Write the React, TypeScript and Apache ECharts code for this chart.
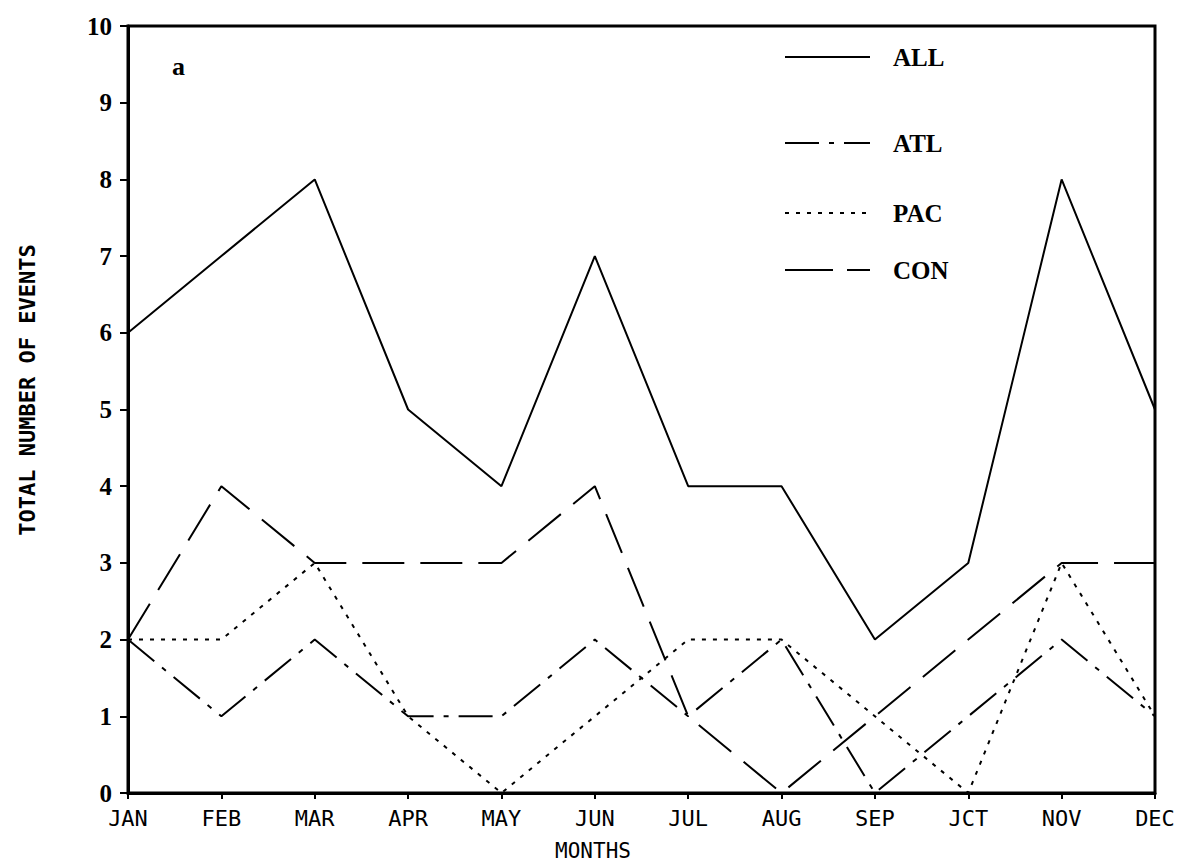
import React, { useEffect, useRef } from "react";
import * as echarts from "echarts";

const months = ["JAN", "FEB", "MAR", "APR", "MAY", "JUN", "JUL", "AUG", "SEP", "OCT", "NOV", "DEC"];
const monthLabels = ["JAN", "FEB", "MAR", "APR", "MAY", "JUN", "JUL", "AUG", "SEP", "JCT", "NOV", "DEC"];
const allEvents = [6, 7, 8, 5, 4, 7, 4, 4, 2, 3, 8, 5];
const atlEvents = [2, 1, 2, 1, 1, 2, 1, 2, 0, 1, 2, 1];
const pacEvents = [2, 2, 3, 1, 0, 1, 2, 2, 1, 0, 3, 1];
const conEvents = [2, 4, 3, 3, 3, 4, 1, 0, 1, 2, 3, 3];
const seriesNames = ["ALL", "ATL", "PAC", "CON"];

const styles: any[] = [
  "solid",
  [34, 10, 5, 10],
  [4, 7],
  [42, 16],
];

export default function App() {
  const ref = useRef<HTMLDivElement>(null);
  useEffect(() => {
    const chart = echarts.init(ref.current!, null, { renderer: "svg" });
    const data = [allEvents, atlEvents, pacEvents, conEvents];
    const legendY = [57, 143, 213, 270];
    const legendGraphics: any[] = [];
    seriesNames.forEach((n, i) => {
      legendGraphics.push({
        type: "line",
        shape: { x1: 785, y1: legendY[i], x2: 870, y2: legendY[i] },
        style: { stroke: "#000", lineWidth: 2, lineDash: styles[i] === "solid" ? null : (i === 3 ? [48, 14] : styles[i]) },
      });
      legendGraphics.push({
        type: "text",
        x: 893,
        y: legendY[i],
        style: {
          text: n,
          font: "bold 25px 'Liberation Serif'",
          fill: "#000",
          verticalAlign: "middle",
        },
      });
    });
    legendGraphics.push({
      type: "text",
      x: 172,
      y: 66,
      style: { text: "a", font: "bold 26px 'Liberation Serif'", fill: "#000", verticalAlign: "middle" },
    });
    legendGraphics.push({
      type: "text",
      x: 593,
      y: 851,
      style: { text: "MONTHS", font: "21px 'DejaVu Sans Mono'", fill: "#000", align: "center", verticalAlign: "middle" },
    });
    legendGraphics.push({
      type: "text",
      x: 27,
      y: 390,
      rotation: Math.PI / 2,
      style: { text: "TOTAL NUMBER OF EVENTS", font: "bold 22px 'DejaVu Sans Mono'", fill: "#000", align: "center", verticalAlign: "middle" },
    });
    chart.setOption({
      animation: false,
      backgroundColor: "#fff",
      grid: { left: 128, right: 24, top: 26, bottom: 70 },
      xAxis: {
        type: "category",
        data: monthLabels,
        boundaryGap: false,
        axisLine: { lineStyle: { color: "#000", width: 3 } },
        axisTick: { show: true, length: 6, lineStyle: { color: "#000", width: 2 }, alignWithLabel: true },
        axisLabel: { fontFamily: "DejaVu Sans Mono", fontSize: 22, color: "#000", margin: 14, interval: 0 },
        splitLine: { show: false },
      },
      yAxis: {
        type: "value",
        min: 0,
        max: 10,
        interval: 1,
        axisLine: { show: true, lineStyle: { color: "#000", width: 3 } },
        axisTick: { show: true, length: 8, lineStyle: { color: "#000", width: 2 } },
        axisLabel: { fontFamily: "Liberation Serif", fontWeight: "bold", fontSize: 25, color: "#000", margin: 16 },
        splitLine: { show: false },
      },
      series: seriesNames.map((n, i) => ({
        name: n,
        type: "line",
        data: data[i],
        symbol: "none",
        lineStyle: { color: "#000", width: 2, type: styles[i] },
        z: 3,
      })),
      graphic: [
        {
          type: "rect",
          shape: { x: 128, y: 26, width: 1179 - 128 - 24, height: 863 - 26 - 70 },
          style: { fill: "none", stroke: "#000", lineWidth: 3 },
          z: 10,
        },
        ...legendGraphics,
      ],
    });
    return () => chart.dispose();
  }, []);
  return <div ref={ref} style={{ width: 1179, height: 863, position: "absolute", left: 0, top: 0 }} />;
}
